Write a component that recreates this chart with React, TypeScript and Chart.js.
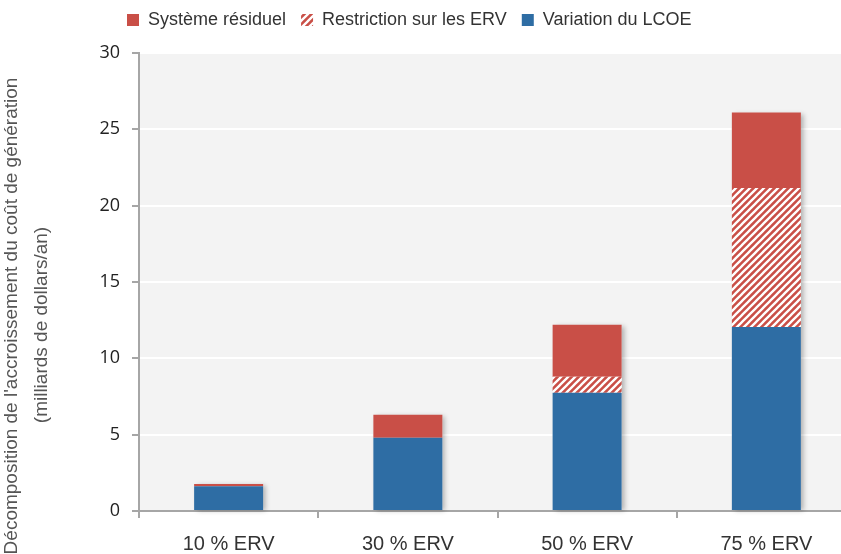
import React, { useEffect, useRef } from 'react';
import { Chart, registerables } from 'chart.js';

Chart.register(...registerables);

// ---- Data ----
const categories = ['10 % ERV', '30 % ERV', '50 % ERV', '75 % ERV'];
const variationLCOE = [1.62, 4.8, 7.75, 12.05];
const restrictionERV = [0, 0, 1.05, 9.1];
const systemeResiduel = [0.15, 1.5, 3.4, 4.95];
const yTicks = [0, 5, 10, 15, 20, 25, 30];
const seriesLabels = ['Variation du LCOE', 'Restriction sur les ERV', 'Système résiduel'];
const yTitleLines = ["Décomposition de l'accroissement du coût de génération", '(milliards de dollars/an)'];

// ---- Styles ----
const RED = '#c94f47';
const BLUE = '#2e6da4';
const PLOT_BG = '#f3f3f3';
const AXIS = '#a6a6a6';

function makeHatch(): CanvasPattern | string {
  const s = 7;
  const c = document.createElement('canvas');
  c.width = s;
  c.height = s;
  const g = c.getContext('2d');
  if (!g) return RED;
  g.fillStyle = RED;
  g.fillRect(0, 0, s, s);
  g.strokeStyle = '#ffffff';
  g.lineWidth = 2.3;
  g.beginPath();
  g.moveTo(-2, s + 2);
  g.lineTo(s + 2, -2);
  g.moveTo(-2, 2);
  g.lineTo(2, -2);
  g.moveTo(s - 2, s + 2);
  g.lineTo(s + 2, s - 2);
  g.stroke();
  return g.createPattern(c, 'repeat') || RED;
}

const plotBgPlugin = {
  id: 'plotBg',
  beforeDraw(chart: any) {
    const { ctx, chartArea } = chart;
    ctx.save();
    ctx.fillStyle = PLOT_BG;
    ctx.fillRect(chartArea.left, chartArea.top, chartArea.right - chartArea.left, chartArea.bottom - chartArea.top);
    ctx.restore();
  },
};

// Moves the legend row so that it starts a little left of the plot area.
const legendOffsetPlugin = {
  id: 'legendOffset',
  afterLayout(chart: any) {
    if (chart.legend) {
      chart.legend.left = chart.chartArea.left - 27;
      chart.legend.top = -4;
    }
  },
};

const stackShadowPlugin = {
  id: 'stackShadow',
  beforeDatasetsDraw(chart: any) {
    const { ctx } = chart;
    const n = chart.data.labels.length;
    ctx.save();
    ctx.shadowColor = 'rgba(0,0,0,0.28)';
    ctx.shadowBlur = 5;
    ctx.shadowOffsetX = 3;
    ctx.shadowOffsetY = 1;
    ctx.fillStyle = PLOT_BG;
    for (let i = 0; i < n; i++) {
      let top = Infinity;
      let bottom = -Infinity;
      let x = 0;
      let w = 0;
      chart.data.datasets.forEach((_d: any, di: number) => {
        const el = chart.getDatasetMeta(di).data[i];
        if (!el) return;
        const p = el.getProps(['x', 'y', 'base', 'width'], true);
        top = Math.min(top, p.y, p.base);
        bottom = Math.max(bottom, p.y, p.base);
        x = p.x;
        w = p.width;
      });
      if (isFinite(top)) ctx.fillRect(x - w / 2, top, w, bottom - top);
    }
    ctx.restore();
  },
};

const yTitlePlugin = {
  id: 'yTitle',
  afterDraw(chart: any) {
    const { ctx } = chart;
    ctx.save();
    ctx.fillStyle = '#555555';
    ctx.font = '19px "Liberation Sans", Arial, sans-serif';
    ctx.textAlign = 'center';
    ctx.textBaseline = 'middle';
    const xs = [12, 42];
    const ys = [316, 325];
    yTitleLines.forEach((line, i) => {
      ctx.save();
      ctx.translate(xs[i], ys[i]);
      ctx.rotate(-Math.PI / 2);
      ctx.fillText(line, 0, 0);
      ctx.restore();
    });
    ctx.restore();
  },
};

export default function App() {
  const ref = useRef<HTMLCanvasElement | null>(null);

  useEffect(() => {
    if (!ref.current) return;
    const hatch = makeHatch();
    const chart = new Chart(ref.current, {
      type: 'bar',
      data: {
        labels: categories,
        datasets: [
          { label: seriesLabels[0], data: variationLCOE, backgroundColor: BLUE, borderWidth: 0 },
          { label: seriesLabels[1], data: restrictionERV, backgroundColor: hatch as any, borderWidth: 0 },
          { label: seriesLabels[2], data: systemeResiduel, backgroundColor: RED, borderWidth: 0 },
        ],
      },
      options: {
        responsive: false,
        animation: false,
        devicePixelRatio: 1,
        layout: { padding: { left: 0, right: 24, top: 0, bottom: 0 } },
        datasets: { bar: { barPercentage: 0.385, categoryPercentage: 1 } },
        plugins: {
          legend: {
            display: true,
            position: 'top',
            align: 'start',
            reverse: true,
            labels: {
              boxWidth: 12,
              boxHeight: 12,
              padding: 15,
              color: '#333333',
              font: { family: '"Liberation Sans", Arial, sans-serif', size: 18 },
            },
          },
          title: {
            display: true,
            text: '',
            position: 'top',
            weight: 500,
            padding: 0,
            font: { size: 10, lineHeight: 1.0 },
          },
          tooltip: { enabled: false },
        },
        scales: {
          x: {
            stacked: true,
            grid: {
              display: true,
              drawOnChartArea: false,
              drawTicks: true,
              tickLength: 7,
              color: AXIS,
              lineWidth: 2,
            },
            border: { display: true, color: AXIS, width: 2 },
            ticks: {
              color: '#333333',
              padding: 14,
              font: { family: '"Liberation Sans", Arial, sans-serif', size: 20 },
            },
            afterFit(scale: any) {
              scale.height = 43;
            },
          },
          y: {
            stacked: true,
            min: 0,
            max: 30,
            grid: {
              color: '#ffffff',
              lineWidth: 2,
              tickColor: AXIS,
              tickLength: 7,
              drawTicks: true,
            },
            border: { display: true, color: AXIS, width: 2 },
            ticks: {
              color: '#222222',
              padding: 12,
              font: { family: '"Open Sans", sans-serif', size: 18 },
            },
            afterBuildTicks(scale: any) {
              scale.ticks = yTicks.map((v) => ({ value: v }));
            },
            afterFit(scale: any) {
              scale.width = 139;
            },
          },
        },
      },
      plugins: [plotBgPlugin, legendOffsetPlugin, stackShadowPlugin, yTitlePlugin],
    });
    return () => chart.destroy();
  }, []);

  return (
    <div style={{ position: 'absolute', left: 0, top: 0, width: 841, height: 554, overflow: 'hidden', background: '#ffffff' }}>
      <canvas ref={ref} width={880} height={554} style={{ display: 'block', width: 880, height: 554 }} />
    </div>
  );
}
